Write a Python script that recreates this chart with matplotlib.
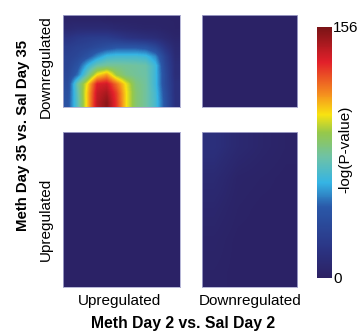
import numpy as np
import matplotlib.pyplot as plt
from matplotlib.colors import LinearSegmentedColormap

plt.rcParams['font.family'] = ['Liberation Sans', 'DejaVu Sans']

# -log(P-value), coarse grid (rows top -> bottom)
down_up = [
    [4, 4, 4, 4, 3, 3, 3, 3, 3, 3, 3, 3],
    [8, 10, 10, 10, 10, 8, 7, 6, 5, 5, 4, 3],
    [18, 22, 24, 25, 25, 22, 18, 16, 14, 12, 8, 5],
    [25, 28, 30, 34, 38, 42, 42, 42, 40, 32, 18, 8],
    [28, 32, 40, 52, 62, 64, 64, 64, 62, 52, 28, 10],
    [30, 40, 60, 74, 78, 78, 77, 76, 74, 62, 32, 12],
    [32, 48, 75, 102, 112, 90, 80, 77, 75, 62, 35, 12],
    [35, 75, 102, 135, 138, 120, 100, 82, 76, 62, 35, 15],
    [38, 72, 106, 140, 146, 128, 102, 84, 76, 64, 38, 15],
    [40, 70, 106, 142, 152, 130, 102, 84, 76, 65, 40, 15],
]
down_down = [
    [2, 2, 2],
    [2, 2, 2],
]
up_up = [
    [2, 2, 2],
    [2, 2, 2],
]
up_down = [
    [14, 8, 5, 3],
    [9, 4, 3, 2],
    [6, 3, 2, 2],
    [4, 2, 2, 2],
    [3, 2, 2, 2],
]
vmax = 156

cmap = LinearSegmentedColormap.from_list('rrho', [
    (0.0, '#2c2163'), (0.12, '#2b3585'), (0.28, '#2a58a8'),
    (0.38, '#35b4e4'), (0.48, '#6ec2a6'), (0.58, '#96c84a'),
    (0.65, '#f8e311'), (0.73, '#f5921e'), (0.86, '#e2202a'),
    (1.0, '#7a1416')])

fig = plt.figure(figsize=(3.64, 3.32), dpi=100)
ax_tl = fig.add_axes([0.173, 0.678, 0.321, 0.277])
ax_tr = fig.add_axes([0.555, 0.678, 0.261, 0.277])
ax_bl = fig.add_axes([0.173, 0.136, 0.321, 0.467])
ax_br = fig.add_axes([0.555, 0.136, 0.261, 0.467])

for ax, d in [(ax_tl, down_up), (ax_tr, down_down), (ax_bl, up_up), (ax_br, up_down)]:
    im = ax.imshow(np.array(d), cmap=cmap, vmin=0, vmax=vmax, aspect='auto',
                   interpolation='bilinear')
    ax.set_xticks([])
    ax.set_yticks([])
    for s in ax.spines.values():
        s.set_color('#a9aad0')
        s.set_linewidth(0.6)

cax = fig.add_axes([0.871, 0.163, 0.041, 0.756])
cb = fig.colorbar(im, cax=cax, ticks=[0, vmax])
cb.outline.set_visible(False)
cb.ax.tick_params(length=0, labelsize=11, pad=1)
cb.ax.set_yticklabels(['0', '156'])
fig.text(0.948, 0.55, '-log(P-value)', rotation=90, ha='center', va='center', fontsize=11)

fig.text(0.327, 0.093, 'Upregulated', ha='center', va='center', fontsize=11)
fig.text(0.687, 0.093, 'Downregulated', ha='center', va='center', fontsize=11)
fig.text(0.503, 0.027, 'Meth Day 2 vs. Sal Day 2', ha='center', va='center',
         fontsize=11.3, fontweight='bold')

fig.text(0.127, 0.798, 'Downregulated', rotation=90, ha='center', va='center', fontsize=11)
fig.text(0.127, 0.34, 'Upregulated', rotation=90, ha='center', va='center', fontsize=11)
fig.text(0.063, 0.593, 'Meth Day 35 vs. Sal Day 35', rotation=90, ha='center', va='center',
         fontsize=10.8, fontweight='bold')

fig.savefig('out.png', dpi=100)
